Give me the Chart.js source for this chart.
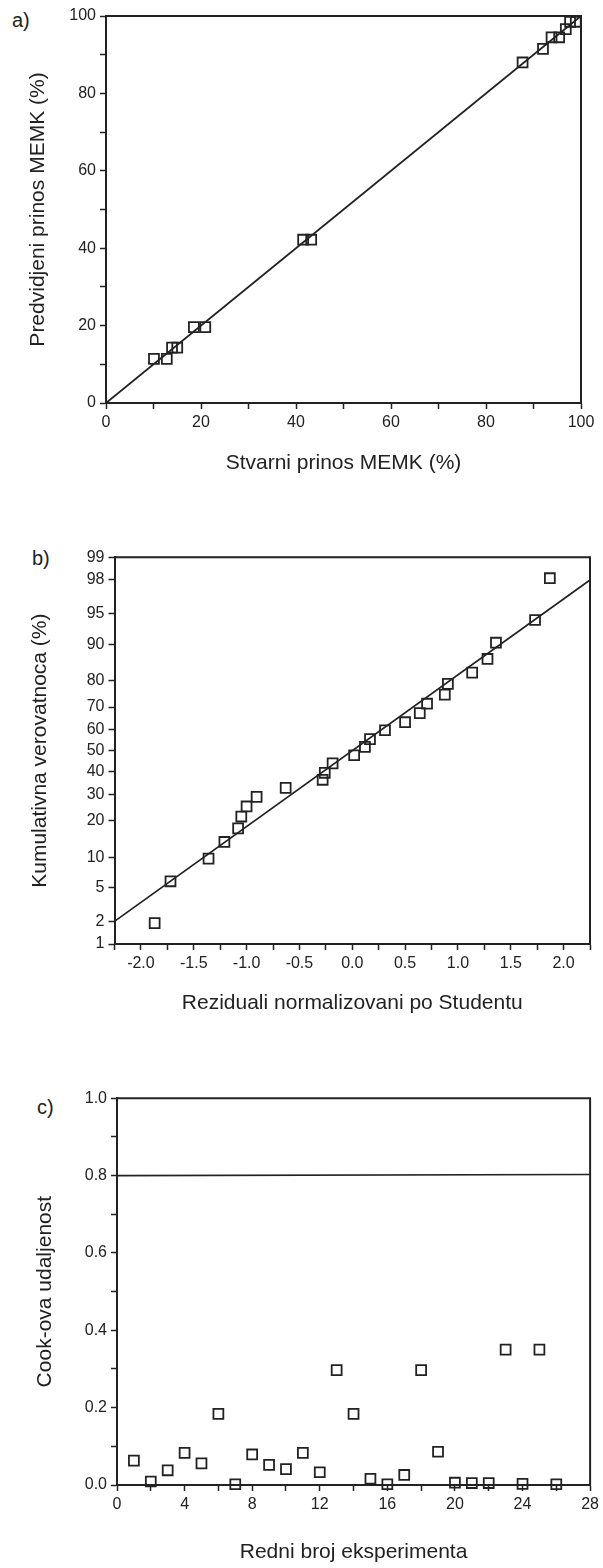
<!DOCTYPE html>
<html>
<head>
<meta charset="utf-8">
<script src="https://cdn.jsdelivr.net/npm/chart.js@4.4.1/dist/chart.umd.min.js"></script>
<style>
  body { margin: 0; background: #fff; width: 603px; height: 1568px; position: relative; overflow: hidden;
         font-family: "Liberation Sans", Arial, sans-serif; color: #222; }
  canvas { position: absolute; left: 0; }
  .lbl { position: absolute; font-size: 20px; line-height: 24px; }
</style>
</head>
<body>
<div class="lbl" style="left:12px;top:8px">a)</div>
<div class="lbl" style="left:32px;top:546px">b)</div>
<div class="lbl" style="left:37px;top:1095px">c)</div>
<canvas id="chartA" width="603" height="500" style="top:0"></canvas>
<canvas id="chartB" width="603" height="540" style="top:500px"></canvas>
<canvas id="chartC" width="603" height="528" style="top:1040px"></canvas>
<script>
// a) actual vs predicted yield
const actualA = [10.1, 12.8, 13.9, 15.0, 18.5, 20.9, 41.5, 43.2, 87.7, 92.0, 93.8, 95.4, 96.8, 97.7, 98.9];
const predictedA = [11.4, 11.4, 14.3, 14.3, 19.6, 19.6, 42.2, 42.2, 88.0, 91.5, 94.5, 94.5, 96.6, 98.5, 98.5];
const lineAx = [0, 100];
const lineAy = [0, 100];

// b) normal probability plot of studentized residuals
const residB = [-1.87, -1.72, -1.36, -1.21, -1.08, -1.05, -1.00, -0.905, -0.63, -0.28, -0.26, -0.186, 0.018,
                0.12, 0.168, 0.31, 0.50, 0.639, 0.708, 0.876, 0.905, 1.135, 1.28, 1.36, 1.73, 1.87];
const probB = [1.9, 5.8, 9.7, 13.6, 17.5, 21.4, 25.1, 28.9, 32.7, 36.3, 39.5, 43.9, 47.8,
               51.8, 55.5, 59.7, 63.4, 67.4, 71.4, 75.0, 78.9, 82.6, 86.5, 90.3, 94.2, 98.1];
const lineBx = [-2.25, 2.25];
const lineBy = [2, 98];
const pctTicks = [1, 2, 5, 10, 20, 30, 40, 50, 60, 70, 80, 90, 95, 98, 99];

// c) Cook's distance
const expNo = [1, 2, 3, 4, 5, 6, 7, 8, 9, 10, 11, 12, 13, 14, 15, 16, 17, 18, 19, 20, 21, 22, 23, 24, 25, 26];
const cookD = [0.063, 0.009, 0.038, 0.083, 0.056, 0.184, 0.002, 0.079, 0.052, 0.041, 0.083, 0.033, 0.297,
               0.184, 0.016, 0.002, 0.026, 0.297, 0.086, 0.006, 0.005, 0.005, 0.35, 0.003, 0.35, 0.002];
const lineCx = [0, 28];
const lineCy = [0.8, 0.803];

const INK = '#222';
const FONT = '"Liberation Sans", Arial, sans-serif';

// inverse normal CDF (Acklam), used for the probability axis
function probit(p) {
  const a = [-3.969683028665376e+01, 2.209460984245205e+02, -2.759285104469687e+02, 1.383577518672690e+02, -3.066479806614716e+01, 2.506628277459239e+00];
  const b = [-5.447609879822406e+01, 1.615858368580409e+02, -1.556989798598866e+02, 6.680131188771972e+01, -1.328068155288572e+01];
  const c = [-7.784894002430293e-03, -3.223964580411365e-01, -2.400758277161838e+00, -2.549732539343734e+00, 4.374664141464968e+00, 2.938163982698783e+00];
  const d = [7.784695709041462e-03, 3.224671290700398e-01, 2.445134137142996e+00, 3.754408661907416e+00];
  const pl = 0.02425;
  let q, r;
  if (p < pl) {
    q = Math.sqrt(-2 * Math.log(p));
    return (((((c[0]*q+c[1])*q+c[2])*q+c[3])*q+c[4])*q+c[5]) / ((((d[0]*q+d[1])*q+d[2])*q+d[3])*q+1);
  }
  if (p > 1 - pl) {
    q = Math.sqrt(-2 * Math.log(1 - p));
    return -(((((c[0]*q+c[1])*q+c[2])*q+c[3])*q+c[4])*q+c[5]) / ((((d[0]*q+d[1])*q+d[2])*q+d[3])*q+1);
  }
  q = p - 0.5; r = q * q;
  return (((((a[0]*r+a[1])*r+a[2])*r+a[3])*r+a[4])*r+a[5])*q / (((((b[0]*r+b[1])*r+b[2])*r+b[3])*r+b[4])*r+1);
}

const frame = {
  id: 'frame',
  afterDatasetsDraw(chart) {
    const { ctx, chartArea: a } = chart;
    ctx.save();
    ctx.strokeStyle = INK;
    ctx.lineWidth = 2;
    ctx.beginPath();
    ctx.moveTo(a.left, a.top);
    ctx.lineTo(a.right, a.top);
    ctx.lineTo(a.right, a.bottom);
    ctx.stroke();
    ctx.restore();
  }
};

function pts(xs, ys) {
  return xs.map((x, i) => ({ x: x, y: ys[i] }));
}

function squares(data) {
  return {
    data: data, showLine: false, clip: false,
    pointStyle: 'rect', pointRadius: 7, pointBorderWidth: 1.8,
    pointBorderColor: INK, pointBackgroundColor: 'rgba(0,0,0,0)'
  };
}

function straight(data) {
  return {
    data: data, showLine: true, pointRadius: 0, borderColor: INK, borderWidth: 1.7, clip: false
  };
}

function axis(o) {
  return {
    type: 'linear', min: o.min, max: o.max,
    afterFit: o.fit,
    afterBuildTicks: o.build,
    border: { color: INK, width: 2 },
    grid: { display: true, drawOnChartArea: false, drawTicks: true, tickLength: 6, tickColor: INK, tickWidth: 1.5 },
    ticks: {
      stepSize: o.step, autoSkip: false, maxRotation: 0, padding: 4,
      color: INK, font: { family: FONT, size: 16 },
      callback: o.label
    },
    title: { display: true, text: o.title, color: INK, font: { family: FONT, size: 21 }, padding: o.tpad }
  };
}

function makeChart(id, datasets, xs, ys, pad) {
  return new Chart(document.getElementById(id), {
    type: 'scatter',
    data: { datasets: datasets },
    options: {
      responsive: false, animation: false,
      layout: { padding: pad },
      plugins: { legend: { display: false }, tooltip: { enabled: false } },
      scales: { x: xs, y: ys }
    },
    plugins: [frame]
  });
}

// a)
makeChart('chartA',
  [straight(pts(lineAx, lineAy)), squares(pts(actualA, predictedA))],
  axis({ min: 0, max: 100, step: 10, title: 'Stvarni prinos MEMK (%)',
         label: v => (v % 20 === 0 ? v : ''), tpad: { top: 0, bottom: 24 },
         fit: s => { s.height = 97; } }),
  axis({ min: 0, max: 100, step: 10, title: 'Predvidjeni prinos MEMK (%)',
         label: v => (v % 20 === 0 ? v : ''), tpad: { top: 26, bottom: 0 },
         fit: s => { s.width = 106; } }),
  { top: 16, right: 22, left: 0, bottom: 0 });

// b)
makeChart('chartB',
  [straight(pts(lineBx, lineBy.map(p => probit(p / 100)))),
   squares(pts(residB, probB.map(p => probit(p / 100))))],
  axis({ min: -2.25, max: 2.25, step: 0.25, title: 'Reziduali normalizovani po Studentu',
         label: v => (Math.round(v * 4) % 2 === 0 ? v.toFixed(1) : ''), tpad: { top: 0, bottom: 24 },
         fit: s => { s.height = 96; } }),
  axis({ min: probit(0.01), max: probit(0.99), title: 'Kumulativna verovatnoca (%)',
         build: s => { s.ticks = pctTicks.map(p => ({ value: probit(p / 100) })); },
         label: (v, i) => pctTicks[i], tpad: { top: 28, bottom: 0 },
         fit: s => { s.width = 114.5; } }),
  { top: 57.3, right: 13, left: 0, bottom: 0 });

// c)
makeChart('chartC',
  [straight(pts(lineCx, lineCy)), squares(pts(expNo, cookD))],
  axis({ min: 0, max: 28, step: 2, title: 'Redni broj eksperimenta',
         label: v => (v % 4 === 0 ? v : ''), tpad: { top: 0, bottom: 3 },
         fit: s => { s.height = 83; } }),
  axis({ min: 0, max: 1.0, step: 0.1, title: 'Cook-ova udaljenost',
         label: v => (Math.round(v * 10) % 2 === 0 ? v.toFixed(1) : ''), tpad: { top: 33, bottom: 0 },
         fit: s => { s.width = 117; } }),
  { top: 58.3, right: 11.5, left: 0, bottom: 0 });
</script>
</body>
</html>
